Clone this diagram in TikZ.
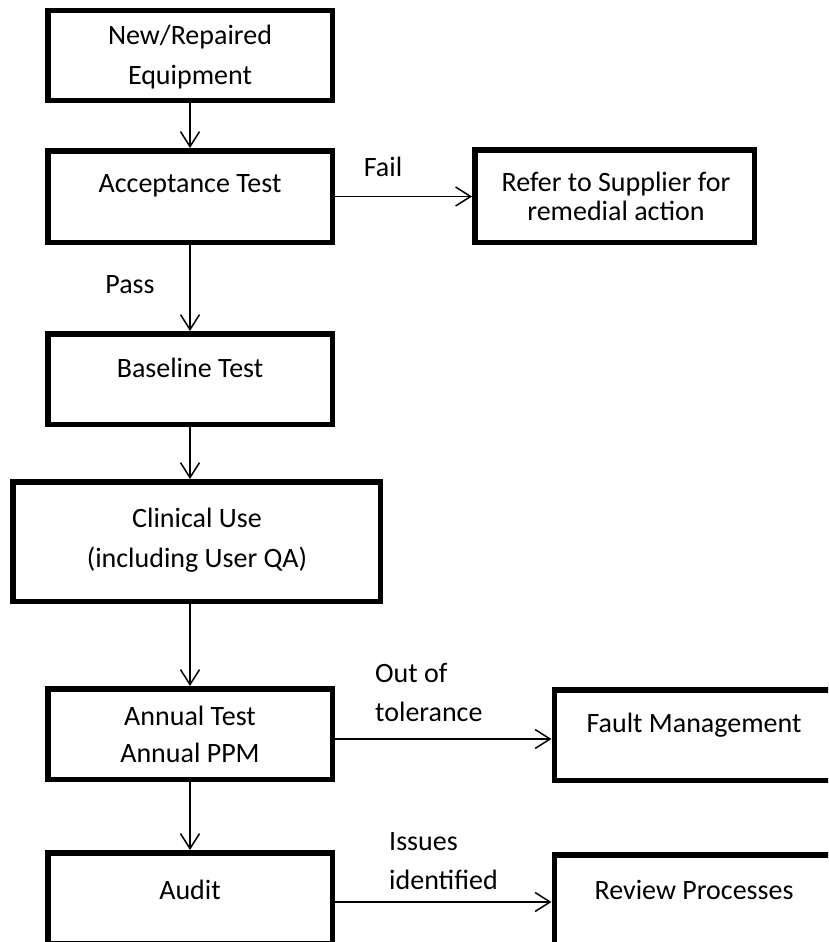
\documentclass[tikz,border=0pt]{standalone}
\usepackage{fontspec}
\setmainfont{Carlito}
\usetikzlibrary{arrows.meta}

\begin{document}
\begin{tikzpicture}[x=1pt, y=-1pt, line cap=round,
    box/.style={draw, line width=5.5pt, inner sep=0pt},
    txt/.style={inner sep=0pt, align=center, font=\fontsize{28}{40}\selectfont},
    lbl/.style={inner sep=0pt, align=left, font=\fontsize{28}{39}\selectfont},
    flow/.style={line width=1.5pt, -{Straight Barb[length=15pt, width=19pt]}}]

    % Page
    \useasboundingbox (0,0) rectangle (828,942);
    \clip (0,0) rectangle (828,942);

    % Boxes
    \node[box, minimum width=284.5pt, minimum height=89.5pt] (new)      at (190,55.5)  {};
    \node[box, minimum width=284.5pt, minimum height=91.5pt] (accept)   at (190,196.5) {};
    \node[box, minimum width=279.5pt, minimum height=92.5pt] (refer)    at (614.5,196) {};
    \node[box, minimum width=284.5pt, minimum height=90.5pt] (base)     at (190,379)   {};
    \node[box, minimum width=367.5pt, minimum height=119.5pt] (clinical) at (196.5,541.5) {};
    \node[box, minimum width=284.5pt, minimum height=90.5pt] (annual)   at (190,734)   {};
    \node[box, minimum width=279.5pt, minimum height=90.5pt] (fault)    at (694,735)   {};
    \node[box, minimum width=284.5pt, minimum height=90.5pt] (audit)    at (190,898)   {};
    \node[box, minimum width=279.5pt, minimum height=90.5pt] (review)   at (694,900)   {};

    % Box texts
    \node[txt] (newT)      at (190,57)   {New/Repaired\\Equipment};
    \node[txt] (acceptT)   at (190,186)  {Acceptance Test};
    \node[txt, font=\fontsize{28}{29}\selectfont] (referT) at (616,196) {Refer to Supplier for\\remedial action};
    \node[txt] (baseT)     at (190,368)  {Baseline Test};
    \node[txt] (clinicalT) at (197,540)  {Clinical Use\\(including User QA)};
    \node[txt, font=\fontsize{28}{37}\selectfont] (annualT) at (190,734.5) {Annual Test\\Annual PPM};
    \node[txt] (faultT)    at (694,725)  {Fault Management};
    \node[txt] (auditT)    at (190,890)  {Audit};
    \node[txt] (reviewT)   at (694,890)  {Review Processes};

    % Arrows
    \draw[flow] (new) -- (accept);
    \draw[flow] (accept.east) -- (accept.east -| refer.west);
    \draw[flow] (accept) -- (base);
    \draw[flow] (base.south) -- (base.south |- clinical.north);
    \draw[flow] (clinical.south -| annual.north) -- (annual.north);
    \draw[flow] ([yshift=-5pt]annual.east) -- ([yshift=-5pt]annual.east -| fault.west);
    \draw[flow] (annual) -- (audit);
    \draw[flow] ([yshift=-4pt]audit.east) -- ([yshift=-4pt]audit.east -| review.west);

    % Labels
    \node[lbl] (fail)   at (383,167) {Fail};
    \node[lbl] (pass)   at (130,285) {Pass};
    \node[lbl, anchor=west] (outtol) at (375,692) {Out of\\tolerance};
    \node[lbl, anchor=west] (issues) at (389,861) {Issues\\identified};
\end{tikzpicture}
\end{document}
